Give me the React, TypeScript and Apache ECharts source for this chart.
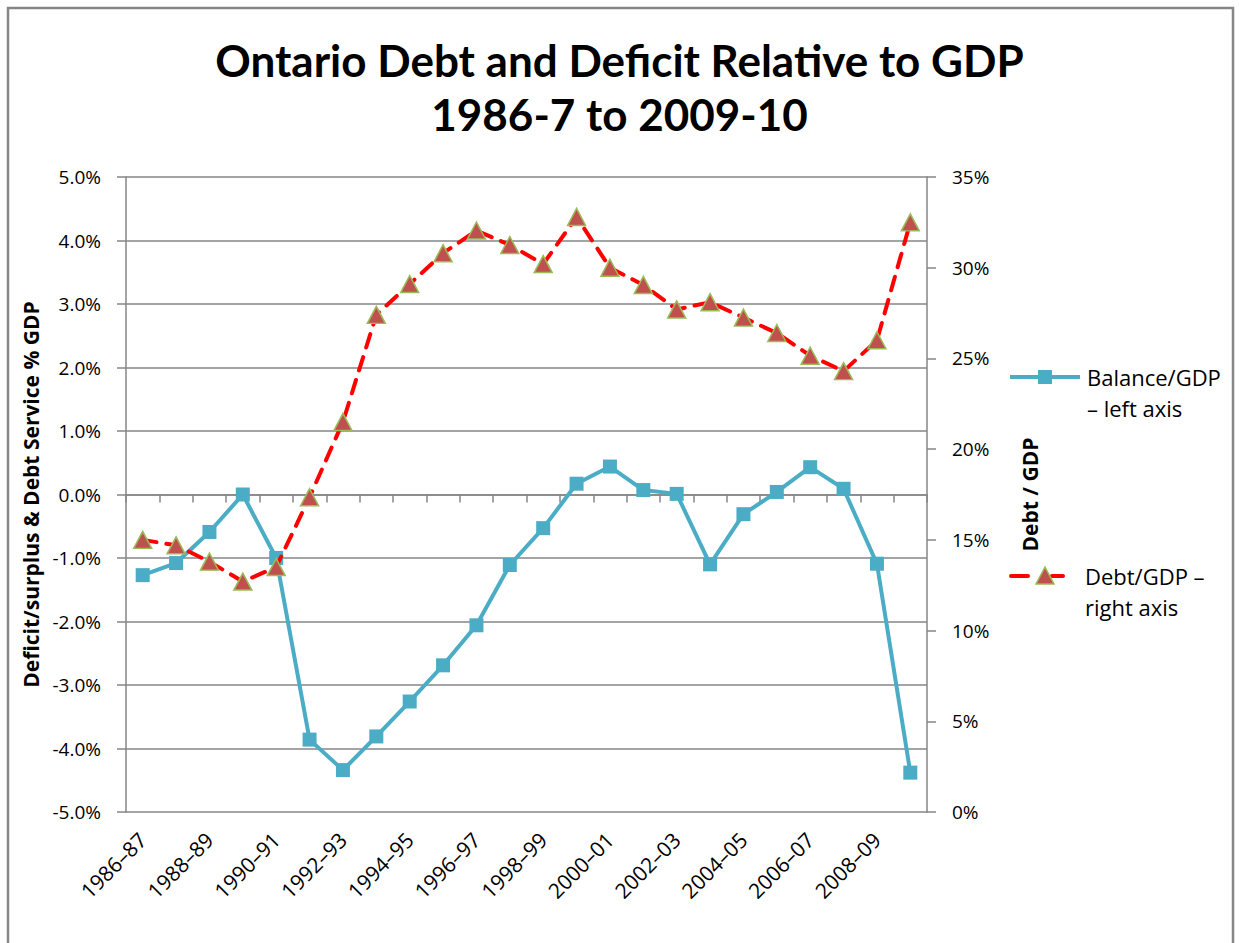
import React, { useEffect, useRef } from "react";
import * as echarts from "echarts";

const categories = [
  "1986–87", "1987–88", "1988–89", "1989–90", "1990–91", "1991–92",
  "1992–93", "1993–94", "1994–95", "1995–96", "1996–97", "1997–98",
  "1998–99", "1999–00", "2000–01", "2001–02", "2002–03", "2003–04",
  "2004–05", "2005–06", "2006–07", "2007–08", "2008–09", "2009–10",
];

// Balance / GDP (%), left axis
const balance = [
  -1.27, -1.08, -0.59, 0.0, -1.0, -3.86, -4.34, -3.81, -3.26, -2.69, -2.06, -1.11,
  -0.53, 0.17, 0.44, 0.07, 0.01, -1.1, -0.31, 0.04, 0.43, 0.09, -1.09, -4.38,
];

// Debt / GDP (%), right axis
const debt = [
  15.0, 14.7, 13.8, 12.7, 13.5, 17.35, 21.5, 27.4, 29.1, 30.8, 32.05, 31.25,
  30.2, 32.8, 30.0, 29.05, 27.7, 28.1, 27.25, 26.4, 25.15, 24.3, 26.0, 32.5,
];

const leftTicks = { min: -5, max: 5, interval: 1 };
const rightTicks = { min: 0, max: 35, interval: 5 };

const TITLE_FONT = "Lato";
const FONT = "Open Sans";
const GRID_COLOR = "#868686";
const BLUE = "#4BACC6";
const RED = "#FF0000";
const TRI_FILL = "#C0504D";
const TRI_EDGE = "#9BBB59";

export default function App() {
  const ref = useRef<HTMLDivElement>(null);
  useEffect(() => {
    if (!ref.current) return;
    const chart = echarts.init(ref.current, null, { renderer: "svg" });
    chart.setOption({
      animation: false,
      backgroundColor: "#ffffff",
      textStyle: { fontFamily: FONT },
      title: {
        text: "Ontario Debt and Deficit Relative to GDP\n1986-7 to 2009-10",
        left: "center",
        top: 28,
        textStyle: {
          fontFamily: TITLE_FONT,
          fontSize: 44,
          fontWeight: "bold",
          color: "#000",
          lineHeight: 54,
        },
      },
      grid: { left: 126, right: 312, top: 177, bottom: 131, containLabel: false },
      xAxis: [
        {
          type: "category",
          data: categories,
          boundaryGap: true,
          position: "bottom",
          axisLine: { show: false, onZero: false },
          axisTick: { show: false },
          axisLabel: {
            interval: 1,
            rotate: 45,
            margin: 24,
            fontSize: 21,
            color: "#000",
            fontFamily: FONT,
          },
          splitLine: { show: false },
        },
        {
          type: "category",
          data: categories,
          boundaryGap: true,
          position: "bottom",
          axisLine: {
            show: true,
            onZero: true,
            onZeroAxisIndex: 0,
            lineStyle: { color: GRID_COLOR, width: 1.5 },
          },
          axisTick: {
            show: true,
            inside: false,
            length: 8,
            interval: 0,
            lineStyle: { color: GRID_COLOR, width: 1.5 },
          },
          axisLabel: { show: false },
          splitLine: { show: false },
        },
      ],
      yAxis: [
        {
          type: "value",
          position: "left",
          min: leftTicks.min,
          max: leftTicks.max,
          interval: leftTicks.interval,
          name: "Deficit/surplus & Debt Service % GDP",
          nameLocation: "middle",
          nameRotate: 90,
          nameGap: 81,
          nameTextStyle: { fontFamily: FONT, fontSize: 21, fontWeight: "bold", color: "#000" },
          axisLine: { show: true, lineStyle: { color: GRID_COLOR, width: 1.5 } },
          axisTick: { show: true, length: 9, lineStyle: { color: GRID_COLOR, width: 1.5 } },
          axisLabel: {
            margin: 25,
            fontSize: 19,
            color: "#000",
            fontFamily: FONT,
            formatter: (v: number) => v.toFixed(1) + "%",
          },
          splitLine: { show: true, lineStyle: { color: GRID_COLOR, width: 1.5 } },
        },
        {
          type: "value",
          position: "right",
          min: rightTicks.min,
          max: rightTicks.max,
          interval: rightTicks.interval,
          name: "Debt / GDP",
          nameLocation: "middle",
          nameRotate: 90,
          nameGap: 92,
          nameTextStyle: { fontFamily: FONT, fontSize: 21, fontWeight: "bold", color: "#000" },
          axisLine: { show: true, lineStyle: { color: GRID_COLOR, width: 1.5 } },
          axisTick: { show: true, length: 9, lineStyle: { color: GRID_COLOR, width: 1.5 } },
          axisLabel: {
            margin: 25,
            fontSize: 19,
            color: "#000",
            fontFamily: FONT,
            formatter: (v: number) => v + "%",
          },
          splitLine: { show: false },
        },
      ],
      series: [
        {
          name: "Balance/GDP – left axis",
          type: "line",
          xAxisIndex: 0,
          yAxisIndex: 0,
          data: balance,
          symbol: "rect",
          symbolSize: 14,
          lineStyle: { color: BLUE, width: 4 },
          itemStyle: { color: BLUE },
          z: 2,
        },
        {
          name: "Debt/GDP – right axis",
          type: "line",
          xAxisIndex: 0,
          yAxisIndex: 1,
          data: debt,
          symbol: "triangle",
          symbolSize: [18, 17],
          lineStyle: { color: RED, width: 4, type: [14, 10], cap: "round" },
          itemStyle: { color: TRI_FILL, borderColor: TRI_EDGE, borderWidth: 1.5 },
          z: 3,
        },
      ],
      graphic: [
        {
          type: "rect",
          shape: { x: 8, y: 8, width: 1225, height: 950 },
          style: { fill: "none", stroke: GRID_COLOR, lineWidth: 2.5 },
          silent: true,
          z: 0,
        },
        // legend item 1
        {
          type: "line",
          shape: { x1: 1010, y1: 377, x2: 1080, y2: 377 },
          style: { stroke: BLUE, lineWidth: 4 },
        },
        {
          type: "rect",
          shape: { x: 1038, y: 370, width: 14, height: 14 },
          style: { fill: BLUE },
        },
        {
          type: "text",
          x: 1087,
          y: 361,
          style: {
            text: "Balance/GDP\n– left axis",
            font: `22px '${FONT}'`,
            fill: "#000",
            lineHeight: 31,
          },
        },
        // legend item 2
        {
          type: "line",
          shape: { x1: 1011, y1: 576, x2: 1028, y2: 576 },
          style: { stroke: RED, lineWidth: 4, lineCap: "round" },
        },
        {
          type: "line",
          shape: { x1: 1052, y1: 576, x2: 1063, y2: 576 },
          style: { stroke: RED, lineWidth: 4, lineCap: "round" },
        },
        {
          type: "polygon",
          shape: { points: [[1045, 567], [1054, 584], [1036, 584]] },
          style: { fill: TRI_FILL, stroke: TRI_EDGE, lineWidth: 1.5 },
        },
        {
          type: "text",
          x: 1085,
          y: 560,
          style: {
            text: "Debt/GDP –\nright axis",
            font: `22px '${FONT}'`,
            fill: "#000",
            lineHeight: 31,
          },
        },
      ],
    });
    return () => chart.dispose();
  }, []);
  return (
    <div
      ref={ref}
      style={{ position: "fixed", left: 0, top: 0, width: 1239, height: 943 }}
    />
  );
}
